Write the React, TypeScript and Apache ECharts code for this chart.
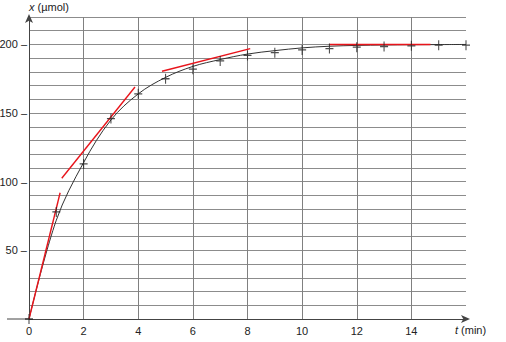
import React, { useEffect, useRef } from "react";
import * as echarts from "echarts";

// measured points (+ markers)
const timeMin = [0, 1, 2, 3, 4, 5, 6, 7, 8, 9, 10, 11, 12, 13, 14, 15, 16];
const amountUmol = [0, 78, 113, 146, 164, 175, 182, 188, 192, 194, 196, 197, 198, 198.5, 199, 199.5, 199.5];

// fitted curve
const curveT = [0, 1, 2, 3, 4, 5, 6, 7, 8, 9, 10, 11, 12, 13, 14, 15, 16];
const curveX = [0, 72, 114, 145, 164, 176, 184, 189, 193, 195.5, 197.5, 198.7, 199.3, 199.6, 199.8, 199.9, 200];

// red tangents [t, x] start/end
const tangent1 = [[0, 0], [1.14, 92]];
const tangent2 = [[1.2, 102.5], [3.88, 169]];
const tangent3 = [[4.87, 180.5], [8.1, 197]];
const tangent4 = [[11, 200], [14.7, 200]];

const xTickLabels = ["0", "2", "4", "6", "8", "10", "12", "14"];
const yTickLabels = ["50", "100", "150", "200"];

const FONT = "Liberation Sans, Arial, sans-serif";

export default function App() {
  const ref = useRef<HTMLDivElement>(null);
  useEffect(() => {
    if (!ref.current) return;
    const chart = echarts.init(ref.current, null, { renderer: "svg" });
    const redLine = (d: number[][]) => ({
      type: "line",
      data: d,
      symbol: "none",
      lineStyle: { color: "#e8141b", width: 1.4 },
      z: 4,
    });
    chart.setOption({
      animation: false,
      backgroundColor: "#ffffff",
      grid: { left: 29, right: 40, top: 17, bottom: 23, containLabel: false, outerBoundsMode: "none" },
      xAxis: {
        type: "value",
        min: 0,
        max: 16,
        interval: 2,
        name: "{i|t} (min)",
        nameLocation: "end",
        nameGap: -11,
        nameTextStyle: {
          verticalAlign: "top",
          align: "left",
          padding: [5, 0, 0, 0],
          fontFamily: FONT,
          fontSize: 11,
          color: "#222",
          rich: { i: { fontStyle: "italic", fontFamily: FONT, fontSize: 11, color: "#222" } },
        },
        axisLine: {
          lineStyle: { color: "#444", width: 1 },
          symbol: ["none", "arrow"],
          symbolSize: [6, 9],
          symbolOffset: [0, 4],
        },
        axisTick: { show: false },
        axisLabel: {
          margin: 6,
          fontFamily: FONT,
          fontSize: 11,
          color: "#222",
          formatter: (v: number) => (xTickLabels.includes(String(v)) ? String(v) : ""),
        },
        splitLine: { show: true, showMaxLine: false, lineStyle: { color: "#808080", width: 1 } },
      },
      yAxis: {
        type: "value",
        min: 0,
        max: 220,
        interval: 10,
        name: "{i|x} (µmol)",
        nameLocation: "end",
        nameGap: 5,
        nameTextStyle: {
          align: "left",
          fontFamily: FONT,
          fontSize: 11,
          color: "#222",
          rich: { i: { fontStyle: "italic", fontFamily: FONT, fontSize: 11, color: "#222" } },
        },
        axisLine: {
          lineStyle: { color: "#444", width: 1 },
          symbol: ["none", "arrow"],
          symbolSize: [6, 9],
          symbolOffset: [0, 3],
        },
        axisTick: { show: false },
        axisLabel: {
          margin: 2,
          fontFamily: FONT,
          fontSize: 11,
          color: "#222",
          formatter: (v: number) => (yTickLabels.includes(String(v)) ? String(v) + " –" : ""),
        },
        splitLine: { show: true, showMinLine: false, lineStyle: { color: "#8c8c8c", width: 1 } },
      },
      graphic: [
        {
          type: "line",
          shape: { x1: 7, y1: 319, x2: 29, y2: 319 },
          style: { stroke: "#444", lineWidth: 1 },
        },
      ],
      series: [
        {
          type: "line",
          data: curveT.map((t, i) => [t, curveX[i]]),
          smooth: 0.35,
          symbol: "none",
          lineStyle: { color: "#333", width: 1 },
          z: 3,
        },
        {
          type: "scatter",
          data: timeMin.map((t, i) => [t, amountUmol[i]]),
          symbol: "path://M0,5 L10,5 M5,0 L5,10",
          symbolSize: [8, 10],
          itemStyle: { color: "none", borderColor: "#222", borderWidth: 1.2 },
          z: 5,
        },
        redLine(tangent1),
        redLine(tangent2),
        redLine(tangent3),
        redLine(tangent4),
      ],
    });
    return () => chart.dispose();
  }, []);
  return (
    <div
      ref={ref}
      style={{ position: "fixed", left: 0, top: 0, width: 506, height: 342 }}
    />
  );
}
